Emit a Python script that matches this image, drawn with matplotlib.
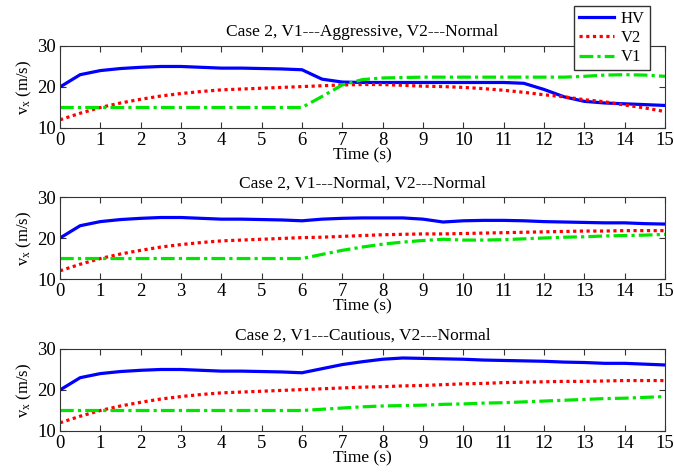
import numpy as np
import matplotlib
matplotlib.use('Agg')
import matplotlib.pyplot as plt

plt.rcParams['font.family'] = ['Liberation Serif', 'DejaVu Serif']
plt.rcParams['mathtext.fontset'] = 'custom'
plt.rcParams['mathtext.rm'] = 'Liberation Serif'

# time grid, 0.5 s steps
t = np.arange(0, 15.01, 0.5)

# first 6 s are the same in all three cases (t = 0 ... 6)
hv_start = [20, 23, 24, 24.5, 24.8, 25, 25, 24.8, 24.6, 24.6, 24.5, 24.4, 24.2]
v2_start = [12, 13.6, 15, 16.1, 17, 17.8, 18.4, 18.9, 19.3, 19.5, 19.7, 19.9, 20.1]
v1_start = [15] * 13

# t = 6.5 ... 15
hv_aggr = [21.9, 21.2, 21.1, 21.1, 21.1, 21.1, 21.1, 21.1, 21.1, 21.1, 20.9, 19.4,
           17.6, 16.5, 16.1, 15.9, 15.7, 15.5]
v2_aggr = [20.3, 20.5, 20.6, 20.6, 20.4, 20.2, 20.1, 19.9, 19.6, 19.2, 18.7, 18.1,
           17.6, 16.9, 16.4, 15.6, 14.9, 14.0]
v1_aggr = [17.7, 20.5, 21.8, 22.2, 22.3, 22.4, 22.4, 22.4, 22.4, 22.4, 22.4, 22.4,
           22.4, 22.6, 22.9, 23.0, 22.9, 22.6]

hv_norm = [24.6, 24.8, 24.9, 24.9, 24.9, 24.6, 23.9, 24.2, 24.3, 24.3, 24.2, 24.0,
           23.9, 23.8, 23.7, 23.7, 23.5, 23.4]
v2_norm = [20.2, 20.4, 20.6, 20.8, 20.9, 21.0, 21.0, 21.1, 21.2, 21.3, 21.4, 21.5,
           21.6, 21.7, 21.7, 21.8, 21.8, 21.8]
v1_norm = [16.0, 17.0, 17.8, 18.5, 19.0, 19.4, 19.7, 19.5, 19.5, 19.6, 19.8, 20.0,
           20.2, 20.3, 20.5, 20.6, 20.7, 20.9]

hv_caut = [25.2, 26.2, 26.9, 27.5, 27.8, 27.7, 27.6, 27.5, 27.3, 27.2, 27.1, 27.0,
           26.8, 26.7, 26.5, 26.5, 26.3, 26.1]
v2_caut = [20.3, 20.5, 20.7, 20.8, 21.0, 21.1, 21.3, 21.5, 21.6, 21.8, 21.9, 22.0,
           22.1, 22.1, 22.2, 22.3, 22.3, 22.3]
v1_caut = [15.3, 15.6, 15.9, 16.1, 16.2, 16.3, 16.5, 16.6, 16.8, 16.9, 17.1, 17.3,
           17.5, 17.7, 17.9, 18.0, 18.2, 18.4]

titles = ['Case 2, V1---Aggressive, V2---Normal',
          'Case 2, V1---Normal, V2---Normal',
          'Case 2, V1---Cautious, V2---Normal']
cases = [(hv_aggr, v2_aggr, v1_aggr),
         (hv_norm, v2_norm, v1_norm),
         (hv_caut, v2_caut, v1_caut)]

fig = plt.figure(figsize=(6.74, 4.73), dpi=100)
bottoms = [0.7294, 0.4101, 0.0888]
left, width, height = 0.089, 0.8976, 0.1734

for k in range(3):
    ax = fig.add_axes([left, bottoms[k], width, height])
    hv, v2, v1 = cases[k]
    ax.plot(t, hv_start + hv, color='#0000ff', lw=2.3, label='HV')
    ax.plot(t, v2_start + v2, color='#ff0000', lw=2.3, dashes=(1, 1.1), label='V2')
    ax.plot(t, v1_start + v1, color='#00e600', lw=2.3, dashes=(4.3, 1.3, 1, 1.3), label='V1')
    ax.set_xlim(0, 15)
    ax.set_ylim(10, 30)
    ax.set_xticks(range(16))
    ax.set_yticks([10, 20, 30])
    ax.tick_params(direction='in', top=True, right=True, length=4, width=0.8,
                   labelsize=13.5, pad=3, color='#333333')
    for s in ax.spines.values():
        s.set_linewidth(0.8)
        s.set_color('#333333')
    ax.set_title(titles[k], fontsize=12.5, pad=7)
    ax.set_xlabel('Time (s)', fontsize=12.5, labelpad=-1)
    ax.set_ylabel(r'$\mathregular{v_x}$ (m/s)', fontsize=12, labelpad=2)
    if k == 0:
        handles, labels = ax.get_legend_handles_labels()

fig.legend(handles, labels, loc='upper left', bbox_to_anchor=(0.852, 0.988),
           fontsize=12, frameon=True, fancybox=False, framealpha=1,
           edgecolor='#333333', borderpad=0.3, labelspacing=0.2,
           handlelength=2.1, handletextpad=0.4, borderaxespad=0)

fig.savefig('out.png', dpi=100)
